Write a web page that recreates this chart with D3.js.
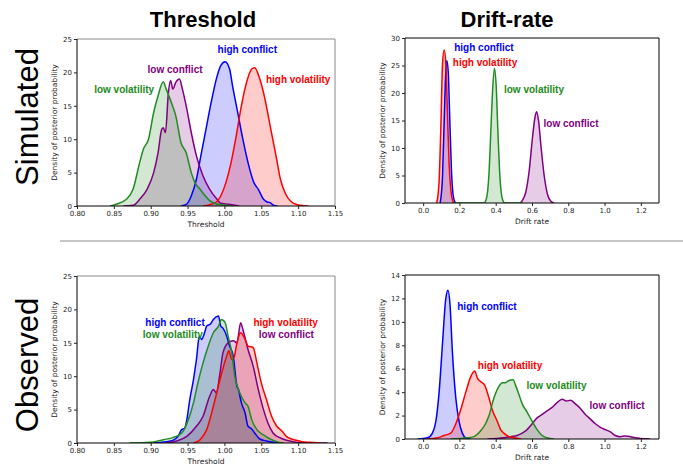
<!DOCTYPE html>
<html>
<head>
<meta charset="utf-8">
<script src="https://cdn.jsdelivr.net/npm/d3@7"></script>
<style>
	body { margin: 0; background: #fff; }
	.tick text { font-family: "DejaVu Sans", sans-serif; font-size: 7px; fill: #222; }
	.tick line { stroke: #222; }
	.axisLabel { font-family: "DejaVu Sans", sans-serif; font-size: 7.5px; fill: #222; }
	.annot { font-family: "Liberation Sans", Arial, sans-serif; font-size: 10px; font-weight: bold; }
	.colTitle { font-family: "Liberation Sans", Arial, sans-serif; font-size: 22px; font-weight: bold; }
	.rowTitle { font-family: "Liberation Sans", Arial, sans-serif; font-size: 31px; }
</style>
</head>
<body>
<div id="graphic"></div>
<script>
// conditions, in drawing order
const conditions = ['high conflict', 'low conflict', 'high volatility', 'low volatility'];

// ---- Simulated, threshold: [threshold, density]
const simThrHighConflict = [[0.941,0],[0.949,0.3],[0.955,1.5],[0.962,4],[0.968,7.5],[0.975,11.5],[0.982,15.5],[0.989,19],[0.995,21],[1.001,21.6],[1.007,20.5],[1.011,18],[1.018,14],[1.025,10],[1.032,6.5],[1.04,3.5],[1.046,2.5],[1.053,1],[1.058,0.6],[1.062,0.5],[1.067,0.1],[1.072,0]];
const simThrLowConflict = [[0.863,0],[0.876,0.1],[0.885,1],[0.895,2.5],[0.904,5],[0.91,8],[0.915,11.5],[0.917,11.7],[0.92,11],[0.924,17],[0.927,18.8],[0.93,17.5],[0.934,18.5],[0.939,19],[0.943,17.5],[0.949,14.5],[0.955,11],[0.962,7.5],[0.971,4.5],[0.98,2.5],[0.99,1],[0.995,0.4],[1.002,0.3],[1.01,0.2],[1.02,0]];
const simThrHighVol = [[0.971,0],[0.98,0.2],[0.989,0.6],[0.995,1.5],[1.002,3.5],[1.009,6.5],[1.016,10.5],[1.023,15],[1.03,18.5],[1.037,20.5],[1.041,20.7],[1.048,19],[1.055,16],[1.062,12],[1.07,7.5],[1.076,4],[1.083,1.8],[1.09,0.7],[1.099,0.2],[1.108,0.05],[1.114,0]];
const simThrLowVol = [[0.845,0],[0.854,0.3],[0.867,1],[0.876,2.5],[0.885,6.5],[0.89,8.5],[0.897,10],[0.904,14],[0.91,16.5],[0.917,18.6],[0.921,17.5],[0.928,15.5],[0.934,13.5],[0.941,9.5],[0.948,8],[0.955,5],[0.96,3.5],[0.967,2.5],[0.974,1.5],[0.98,0.8],[0.99,0.3],[1.002,0.1],[1.01,0]];

// ---- Simulated, drift rate
const simDrHighConflict = [[0.094,0],[0.107,5],[0.116,15],[0.125,24],[0.13,25.9],[0.138,24],[0.147,15],[0.156,6],[0.165,1.5],[0.175,0.2],[0.18,0]];
const simDrLowConflict = [[0.535,0],[0.548,0.5],[0.566,2],[0.585,6],[0.603,12],[0.616,15.5],[0.625,16.6],[0.636,15],[0.649,10.5],[0.667,5],[0.686,1.5],[0.704,0.3],[0.72,0]];
const simDrHighVol = [[0.075,0],[0.088,4],[0.097,13],[0.107,25.4],[0.116,27.8],[0.125,25.4],[0.134,16.3],[0.143,7.2],[0.153,2.3],[0.162,0.5],[0.17,0]];
const simDrLowVol = [[0.17,0],[0.335,0],[0.346,0.5],[0.355,2],[0.364,6],[0.373,13],[0.382,20],[0.393,24.5],[0.403,21],[0.412,13],[0.421,6],[0.43,2],[0.439,0.5],[0.45,0],[0.55,0]];

// ---- Observed, threshold
const obsThrHighConflict = [[0.903,0],[0.921,0.2],[0.93,0.4],[0.937,1],[0.942,2],[0.946,2.2],[0.949,3.5],[0.953,6.5],[0.958,9.5],[0.962,12.5],[0.966,16],[0.969,15.5],[0.973,16.5],[0.976,17.5],[0.981,17.8],[0.985,18.5],[0.992,19],[0.995,17.5],[0.998,17.2],[1.003,16],[1.007,14.5],[1.012,13],[1.017,8.5],[1.019,8],[1.023,6],[1.028,4.5],[1.032,2.5],[1.037,2.1],[1.041,1.5],[1.048,0.6],[1.057,0.3],[1.071,0.05],[1.08,0]];
const obsThrLowConflict = [[0.921,0],[0.935,0.3],[0.949,1],[0.962,2.5],[0.971,4],[0.98,7],[0.985,8],[0.989,7.5],[0.994,10.5],[0.998,13.5],[1.005,15],[1.012,15.3],[1.017,15],[1.022,18],[1.025,17],[1.032,14],[1.039,11.5],[1.046,8],[1.053,5],[1.059,3],[1.066,1.5],[1.075,0.8],[1.084,0.4],[1.093,0.2],[1.105,0.05],[1.14,0]];
const obsThrHighVol = [[0.958,0],[0.967,0.5],[0.976,2],[0.985,5.5],[0.994,9.5],[1.003,13],[1.006,13.8],[1.01,12.5],[1.013,12.8],[1.017,15],[1.022,16.5],[1.028,15.5],[1.032,14.5],[1.039,14.3],[1.044,12],[1.05,9],[1.057,6.5],[1.064,4],[1.071,2.5],[1.078,1.8],[1.084,1],[1.091,0.6],[1.098,0.4],[1.105,0.2],[1.116,0.1],[1.13,0]];
const obsThrLowVol = [[0.871,0],[0.899,0.1],[0.917,0.5],[0.93,0.8],[0.942,1.5],[0.951,3.5],[0.958,6],[0.964,9],[0.971,12],[0.978,14.5],[0.985,16.5],[0.992,17.5],[0.996,18.5],[1.001,18],[1.005,16],[1.01,13.5],[1.014,10],[1.021,7.5],[1.028,6],[1.032,5.5],[1.037,3.5],[1.044,2],[1.053,1.2],[1.062,0.6],[1.071,0.2],[1.08,0]];

// ---- Observed, drift rate
const obsDrHighConflict = [[-0.03,0],[0.024,0.1],[0.051,0.5],[0.07,1.5],[0.088,4],[0.106,8],[0.125,12],[0.137,12.7],[0.148,11.5],[0.161,7.5],[0.18,3.5],[0.198,1.5],[0.216,0.5],[0.235,0.1],[0.26,0]];
const obsDrLowConflict = [[0.354,0],[0.445,0.1],[0.482,0.2],[0.518,0.3],[0.546,0.5],[0.573,0.8],[0.601,1.3],[0.628,1.8],[0.656,2.1],[0.683,2.4],[0.711,2.7],[0.738,3.1],[0.766,3.4],[0.79,3.25],[0.812,3.3],[0.839,3.0],[0.867,2.6],[0.894,2.1],[0.922,1.7],[0.949,1.3],[0.977,1.0],[1.004,0.8],[1.032,0.6],[1.059,0.3],[1.086,0.2],[1.114,0.25],[1.141,0.2],[1.169,0.1],[1.196,0.05],[1.251,0]];
const obsDrHighVol = [[0.024,0],[0.079,0.1],[0.115,0.3],[0.152,0.5],[0.18,1.3],[0.207,2.5],[0.235,4],[0.262,5.3],[0.284,5.8],[0.299,5.2],[0.317,4.9],[0.339,4.6],[0.363,3.5],[0.381,2.5],[0.409,1.5],[0.427,0.8],[0.445,0.5],[0.473,0.2],[0.5,0.1],[0.54,0]];
const obsDrLowVol = [[0.152,0],[0.244,0.1],[0.28,0.2],[0.317,0.7],[0.344,1.3],[0.363,2],[0.39,3.5],[0.418,4.5],[0.436,4.8],[0.454,4.8],[0.473,5],[0.496,5.05],[0.509,4.6],[0.528,3.8],[0.546,3],[0.573,2.3],[0.601,1.5],[0.628,0.8],[0.656,0.3],[0.683,0.1],[0.72,0]];

// axis ticks
const thrTicks = [0.80, 0.85, 0.90, 0.95, 1.00, 1.05, 1.10, 1.15];
const drTicks = [0.0, 0.2, 0.4, 0.6, 0.8, 1.0, 1.2];
const yTicks25 = [0, 5, 10, 15, 20, 25];
const yTicks30 = [0, 5, 10, 15, 20, 25, 30];
const yTicks14 = [0, 2, 4, 6, 8, 10, 12, 14];

// label anchors [x, density] in data units, same order as conditions
const simThrLabels = [[1.031, 23.4], [0.933, 20.4], [1.100, 19.0], [0.864, 17.5]];
const simDrLabels = [[0.335, 28.2], [0.815, 14.5], [0.341, 25.6], [0.611, 20.7]];
const obsThrLabels = [[0.933, 18.1], [1.084, 16.3], [1.083, 18.1], [0.930, 16.3]];
const obsDrLabels = [[0.352, 11.3], [1.069, 2.9], [0.479, 6.3], [0.735, 4.6]];

const colour = {
	'high conflict': '#0000ff',
	'low conflict': '#800080',
	'high volatility': '#ff0000',
	'low volatility': '#228b22'
};

const W = 683, H = 470;
const svg = d3.select('#graphic').append('svg').attr('width', W).attr('height', H);
svg.append('rect').attr('width', W).attr('height', H).attr('fill', '#fff');

// panel setup (pixel boxes of each plot area)
const panels = [
	{ box: [77, 39, 335, 206], xDom: [0.80, 1.15], yDom: [0, 25], xTicks: thrTicks, yTicks: yTicks25, xFmt: '.2f', xLabel: 'Threshold',
	  series: [simThrHighConflict, simThrLowConflict, simThrHighVol, simThrLowVol], labels: simThrLabels, greySpine: true },
	{ box: [405, 38, 659, 203], xDom: [-0.1, 1.3], yDom: [0, 30], xTicks: drTicks, yTicks: yTicks30, xFmt: '.1f', xLabel: 'Drift rate',
	  series: [simDrHighConflict, simDrLowConflict, simDrHighVol, simDrLowVol], labels: simDrLabels, greySpine: false },
	{ box: [77, 276, 335, 443], xDom: [0.80, 1.15], yDom: [0, 25], xTicks: thrTicks, yTicks: yTicks25, xFmt: '.2f', xLabel: 'Threshold',
	  series: [obsThrHighConflict, obsThrLowConflict, obsThrHighVol, obsThrLowVol], labels: obsThrLabels, greySpine: true },
	{ box: [405, 275, 659, 439], xDom: [-0.1, 1.3], yDom: [0, 14], xTicks: drTicks, yTicks: yTicks14, xFmt: '.1f', xLabel: 'Drift rate',
	  series: [obsDrHighConflict, obsDrLowConflict, obsDrHighVol, obsDrLowVol], labels: obsDrLabels, greySpine: false }
];

panels.forEach(function (p) {
	const [x0, y0, x1, y1] = p.box;
	const x = d3.scaleLinear().domain(p.xDom).range([x0, x1]);
	const y = d3.scaleLinear().domain(p.yDom).range([y1, y0]);

	const g = svg.append('g');
	const clipId = 'clip' + x0 + '_' + y0;
	g.append('clipPath').attr('id', clipId)
		.append('rect').attr('x', x0).attr('y', y0).attr('width', x1 - x0).attr('height', y1 - y0);

	const plot = g.append('g').attr('clip-path', `url(#${clipId})`);

	const area = d3.area().x((d) => x(d[0])).y0(y(0)).y1((d) => y(d[1])).curve(d3.curveMonotoneX);
	const line = d3.line().x((d) => x(d[0])).y((d) => y(d[1])).curve(d3.curveMonotoneX);

	// fills first, then lines
	p.series.forEach(function (s, i) {
		plot.append('path').datum(s).attr('d', area)
			.attr('fill', colour[conditions[i]]).attr('fill-opacity', 0.2);
	});
	p.series.forEach(function (s, i) {
		plot.append('path').datum(s).attr('d', line)
			.attr('fill', 'none').attr('stroke', colour[conditions[i]])
			.attr('stroke-width', 1.5).style('stroke-linejoin', 'round');
	});

	// frame (matplotlib-ish spines)
	const spineCol = p.greySpine ? '#8a8a8a' : '#000';
	g.append('line').attr('x1', x0).attr('x2', x1).attr('y1', y0).attr('y2', y0).attr('stroke', spineCol).attr('stroke-width', 1);
	g.append('line').attr('x1', x1).attr('x2', x1).attr('y1', y0).attr('y2', y1).attr('stroke', spineCol).attr('stroke-width', 1);
	g.append('line').attr('x1', x0).attr('x2', x1).attr('y1', y1).attr('y2', y1).attr('stroke', '#000').attr('stroke-width', 1);
	g.append('line').attr('x1', x0).attr('x2', x0).attr('y1', y0).attr('y2', y1).attr('stroke', '#000').attr('stroke-width', 1);

	// axes
	g.append('g').attr('transform', `translate(0,${y1})`)
		.call(d3.axisBottom(x).tickValues(p.xTicks).tickFormat(d3.format(p.xFmt)).tickSize(3).tickSizeOuter(0).tickPadding(2))
		.call((a) => a.select('.domain').remove());
	g.append('g').attr('transform', `translate(${x0},0)`)
		.call(d3.axisLeft(y).tickValues(p.yTicks).tickFormat(d3.format('d')).tickSize(3).tickSizeOuter(0).tickPadding(2))
		.call((a) => a.select('.domain').remove());

	g.append('text').attr('class', 'axisLabel')
		.attr('x', (x0 + x1) / 2).attr('y', y1 + 21)
		.attr('text-anchor', 'middle').text(p.xLabel);
	g.append('text').attr('class', 'axisLabel')
		.attr('transform', `translate(${x0 - 20},${(y0 + y1) / 2}) rotate(-90)`)
		.attr('text-anchor', 'middle').text('Density of posterior probability');

	// direct labels
	p.labels.forEach(function (l, i) {
		g.append('text').attr('class', 'annot')
			.attr('x', x(l[0])).attr('y', y(l[1])).attr('dy', '0.35em')
			.attr('text-anchor', 'middle')
			.attr('fill', colour[conditions[i]])
			.text(conditions[i]);
	});
});

// column titles
svg.append('text').attr('class', 'colTitle').attr('x', 203).attr('y', 27).attr('text-anchor', 'middle').text('Threshold');
svg.append('text').attr('class', 'colTitle').attr('x', 507).attr('y', 27).attr('text-anchor', 'middle').text('Drift-rate');

// row titles
svg.append('text').attr('class', 'rowTitle').attr('transform', 'translate(38,117) rotate(-90)').attr('text-anchor', 'middle').text('Simulated');
svg.append('text').attr('class', 'rowTitle').attr('transform', 'translate(38,365) rotate(-90)').attr('text-anchor', 'middle').text('Observed');

// separator between rows
svg.append('line').attr('x1', 60).attr('x2', W).attr('y1', 241).attr('y2', 241).attr('stroke', '#c8c8c8').attr('stroke-width', 2);
</script>
</body>
</html>
